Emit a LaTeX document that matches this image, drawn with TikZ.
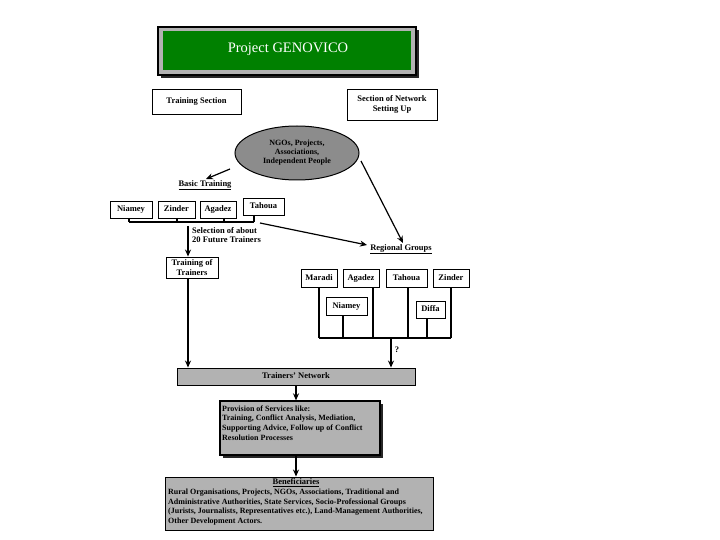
\documentclass[tikz,border=0pt]{standalone}
\usepackage{fontspec}
\setmainfont{Liberation Serif}
\usetikzlibrary{arrows.meta,shapes.geometric}
\definecolor{gengreen}{RGB}{0,128,0}
\definecolor{ellgrey}{RGB}{140,140,140}
\definecolor{boxgrey}{RGB}{178,178,178}
\tikzset{
  box/.style={draw=black,line width=0.9pt,fill=white,font=\fontsize{8.5}{9.5}\selectfont\bfseries,inner sep=1pt,align=center},
  sbox/.style={box,text height=6pt,text depth=1.5pt},
  conn/.style={line width=1.2pt,-{Stealth[length=7pt,width=6pt]}},
  brk/.style={line width=1.2pt},
  lbl/.style={font=\fontsize{8.5}{9.5}\selectfont\bfseries,inner sep=0pt},
}
\begin{document}
\begin{tikzpicture}[x=1pt,y=-1pt]
\useasboundingbox (0,0) rectangle (720,540);
% title
\fill[black!85] (161,30) rectangle (419,78);
\draw[line width=1.5pt,fill=boxgrey] (158,27) rectangle (416,75);
\fill[gengreen] (163,31) rectangle (411,70);
\node[text=white,font=\fontsize{14.5}{16}\selectfont] (title) at (288,49) {Project GENOVICO};
% sections
\node[sbox,minimum width=89pt,minimum height=25pt] (ts) at (196.5,101.5) {Training Section};
\node[box,minimum width=90pt,minimum height=31pt] (sn) at (392,104.5) {Section of Network\\Setting Up};
% ellipse
\node[ellipse,draw,line width=1pt,fill=ellgrey,minimum width=124pt,minimum height=54pt,inner sep=0pt,font=\fontsize{8}{9}\selectfont\bfseries,align=center] (ngo) at (297,153) {NGOs, Projects,\\Associations,\\Independent People};
% basic training
\node[lbl] (bt) at (205,185) {\underline{Basic Training}};
\coordinate (btarr) at (206,179);
\draw[conn] (230,169) -- (btarr);
\node[sbox,minimum width=42pt,minimum height=17pt] (b1) at (131,209.5) {Niamey};
\node[sbox,minimum width=37pt,minimum height=17pt] (b2) at (176.5,209.5) {Zinder};
\node[sbox,minimum width=36pt,minimum height=17pt] (b3) at (218,209.5) {Agadez};
\node[sbox,minimum width=41pt,minimum height=17pt] (b4) at (263.5,206.5) {Tahoua};
\coordinate (bb1) at (129,222);
\coordinate (bb4) at (254,222);
\draw[brk] (bb1) -- (bb4);
\draw[brk] (129,218) -- (bb1);
\draw[brk] (177,218) -- (177,222);
\draw[brk] (224,218) -- (224,222);
\draw[brk] (254,215) -- (bb4);
\node[lbl,align=left,anchor=north west] (sel) at (192,227) {Selection of about\\20 Future Trainers};
\node[box,minimum width=52pt,minimum height=21pt] (tot) at (192,267.5) {Training of\\Trainers};
\draw[conn] (188,226) -- (tot.north -| 188,0);
% regional groups
\node[lbl] (rg) at (401,249) {\underline{Regional Groups}};
\draw[conn] (260,223) -- (367,245);
\draw[conn] (361,161) -- (403,243);
\node[sbox,minimum width=36pt,minimum height=18pt] (r1) at (319,278.5) {Maradi};
\node[sbox,minimum width=36pt,minimum height=18pt] (r2) at (361,278.5) {Agadez};
\node[sbox,minimum width=41pt,minimum height=18pt] (r3) at (406.5,278.5) {Tahoua};
\node[sbox,minimum width=36pt,minimum height=18pt] (r4) at (451,278.5) {Zinder};
\node[sbox,minimum width=41pt,minimum height=18pt] (r5) at (346.5,306) {Niamey};
\node[sbox,minimum width=29pt,minimum height=17pt] (r6) at (430.5,309.5) {Diffa};
\coordinate (rb1) at (319,338);
\coordinate (rb2) at (451,338);
\draw[brk] (rb1) -- (rb2);
\draw[brk] (r1.south -| 319,0) -- (rb1);
\draw[brk] (r5.south -| 343,0) -- (343,338);
\draw[brk] (r2.south -| 373,0) -- (373,338);
\draw[brk] (r3.south -| 408,0) -- (408,338);
\draw[brk] (r6.south -| 427,0) -- (427,338);
\draw[brk] (r4.south -| 451,0) -- (rb2);
% trainers network
\node[draw,line width=0.9pt,fill=boxgrey,minimum width=238pt,minimum height=17pt,inner sep=0pt,text height=6pt,text depth=1.5pt,font=\fontsize{8.5}{9.5}\selectfont\bfseries] (tn) at (296,376.5) {Trainers' Network};
\draw[conn] (391,338) -- (tn.north -| 391,0);
\node[lbl] (q) at (397,350) {?};
\draw[conn] (tot.south -| 188,0) -- (tn.north -| 188,0);
% provision
\fill[black!85] (223,404) rectangle (383,458);
\node[draw,line width=1.3pt,fill=boxgrey,minimum width=160pt,minimum height=54pt,inner sep=0pt] (prov) at (300,428) {};
\node[lbl,align=left,anchor=north west,font=\fontsize{8}{9.6}\selectfont\bfseries] (provt) at (222,405.5) {Provision of Services like:\\Training, Conflict Analysis, Mediation,\\Supporting Advice, Follow up of Conflict\\Resolution Processes};
\draw[conn] (tn.south -| 296,0) -- (prov.north -| 296,0);
% beneficiaries
\node[draw,line width=0.9pt,fill=boxgrey,minimum width=268pt,minimum height=53pt,inner sep=0pt] (ben) at (299,503.5) {};
\node[lbl] (bent) at (296,483) {\underline{Beneficiaries}};
\node[lbl,align=left,anchor=north west,font=\fontsize{8}{9.5}\selectfont\bfseries] (bentxt) at (168,489) {Rural Organisations, Projects, NGOs, Associations, Traditional and\\Administrative Authorities, State Services, Socio-Professional Groups\\(Jurists, Journalists, Representatives etc.), Land-Management Authorities,\\Other Development Actors.};
\draw[conn] (prov.south -| 296,0) -- (ben.north -| 296,0);
\end{tikzpicture}
\end{document}
